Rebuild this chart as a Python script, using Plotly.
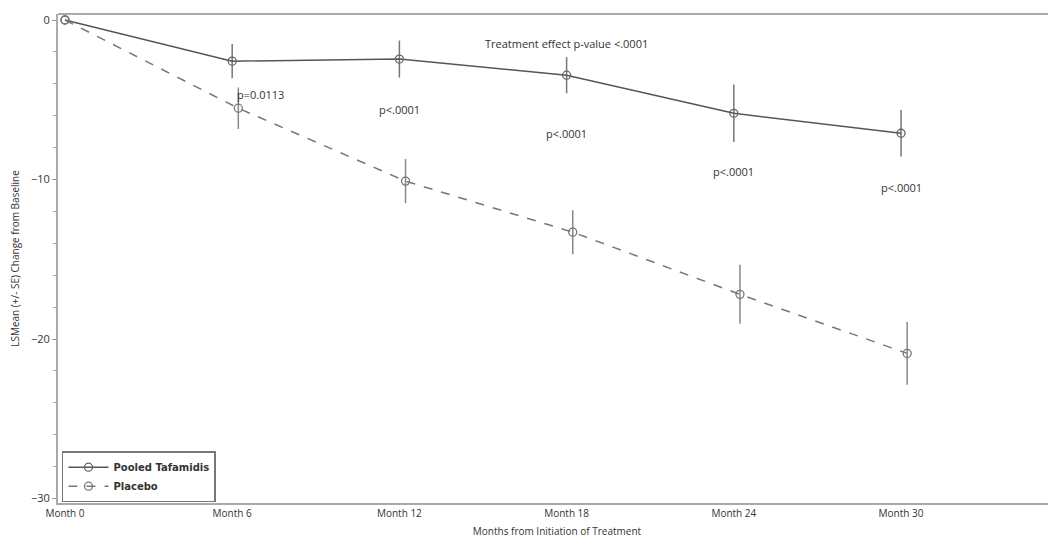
import plotly.graph_objects as go

months = [0, 6, 12, 18, 24, 30]
tick_labels = ["Month 0", "Month 6", "Month 12", "Month 18", "Month 24", "Month 30"]

taf_mean = [0.0, -2.58, -2.45, -3.46, -5.85, -7.1]
taf_se = [0.0, 1.07, 1.16, 1.13, 1.8, 1.45]

pla_mean = [0.0, -5.53, -10.1, -13.3, -17.2, -20.9]
pla_se = [0.0, 1.3, 1.38, 1.38, 1.85, 1.97]

pval_labels = ["p=0.0113", "p<.0001", "p<.0001", "p<.0001", "p<.0001"]
pval_months = [6, 12, 18, 24, 30]
pval_y = [-4.7, -5.6, -7.1, -9.5, -10.5]

# small horizontal dodge for placebo points (visual separation)
dodge = 0.22
pla_x = [m + (dodge if m > 0 else 0) for m in months]

FONT = "Open Sans"
fig = go.Figure()

fig.add_trace(go.Scatter(
    x=months, y=taf_mean, name="Pooled Tafamidis", mode="lines+markers",
    line=dict(color="#555555", width=1.5),
    marker=dict(symbol="circle-open", size=8, color="#666666", line=dict(width=1.3)),
    error_y=dict(type="data", array=taf_se, visible=True, color="#777777", thickness=1.5, width=0),
))
fig.add_trace(go.Scatter(
    x=pla_x, y=pla_mean, name="Placebo", mode="lines+markers",
    line=dict(color="#777777", width=1.5, dash="dash"),
    marker=dict(symbol="circle-open", size=8, color="#777777", line=dict(width=1.3)),
    error_y=dict(type="data", array=pla_se, visible=True, color="#888888", thickness=1.5, width=0),
))

for i, (lab, m, yv) in enumerate(zip(pval_labels, pval_months, pval_y)):
    fig.add_annotation(
        x=m + (0.1 if i == 0 else 0), y=yv, text=lab, showarrow=False,
        xanchor="left" if i == 0 else "center",
        font=dict(family=FONT, size=11, color="#333333"),
    )

fig.add_annotation(
    x=18, y=-1.45, text="Treatment effect p-value <.0001", showarrow=False,
    xanchor="center", font=dict(family=FONT, size=11, color="#333333"),
)

# top frame line
fig.add_shape(type="line", xref="paper", yref="paper", x0=0, x1=1, y0=1, y1=1,
              line=dict(color="#aaaaaa", width=2))

# the page body adds an 8px margin, so the figure is sized to fit the window
fig.update_layout(
    width=1048, height=536,
    margin=dict(l=50, r=0, t=6, b=41),
    paper_bgcolor="white", plot_bgcolor="white",
    font=dict(family=FONT, size=10, color="#333333"),
    showlegend=True,
    legend=dict(
        x=0.004, y=0.106, xanchor="left", yanchor="top",
        bordercolor="#777777", borderwidth=1.5, bgcolor="white",
        font=dict(family="DejaVu Sans", size=10, color="#333333", weight="bold"),
        tracegroupgap=0, itemwidth=40,
    ),
    xaxis=dict(
        range=[-0.25, 35.56], tickvals=months, ticktext=tick_labels,
        automargin=False,
        showgrid=False, zeroline=False, showline=True, linecolor="#aaaaaa", linewidth=2,
        ticks="", tickfont=dict(family=FONT, size=10, color="#333333"),
        title=dict(text="Months from Initiation of Treatment",
                   font=dict(family=FONT, size=10, color="#333333"), standoff=9),
    ),
    yaxis=dict(
        range=[-30.28, 0.376], tickvals=[0, -10, -20, -30],
        automargin=False,
        showgrid=False, zeroline=False, showline=True, linecolor="#aaaaaa", linewidth=2,
        ticks="outside", ticklen=4, tickcolor="#999999",
        tickfont=dict(family=FONT, size=11, color="#333333"),
        minor=dict(dtick=2, ticks="outside", ticklen=3, tickcolor="#aaaaaa"),
        title=dict(text="LSMean (+/- SE) Change from Baseline",
                   font=dict(family=FONT, size=10, color="#333333"), standoff=21),
    ),
)

fig.write_html("out.html")
